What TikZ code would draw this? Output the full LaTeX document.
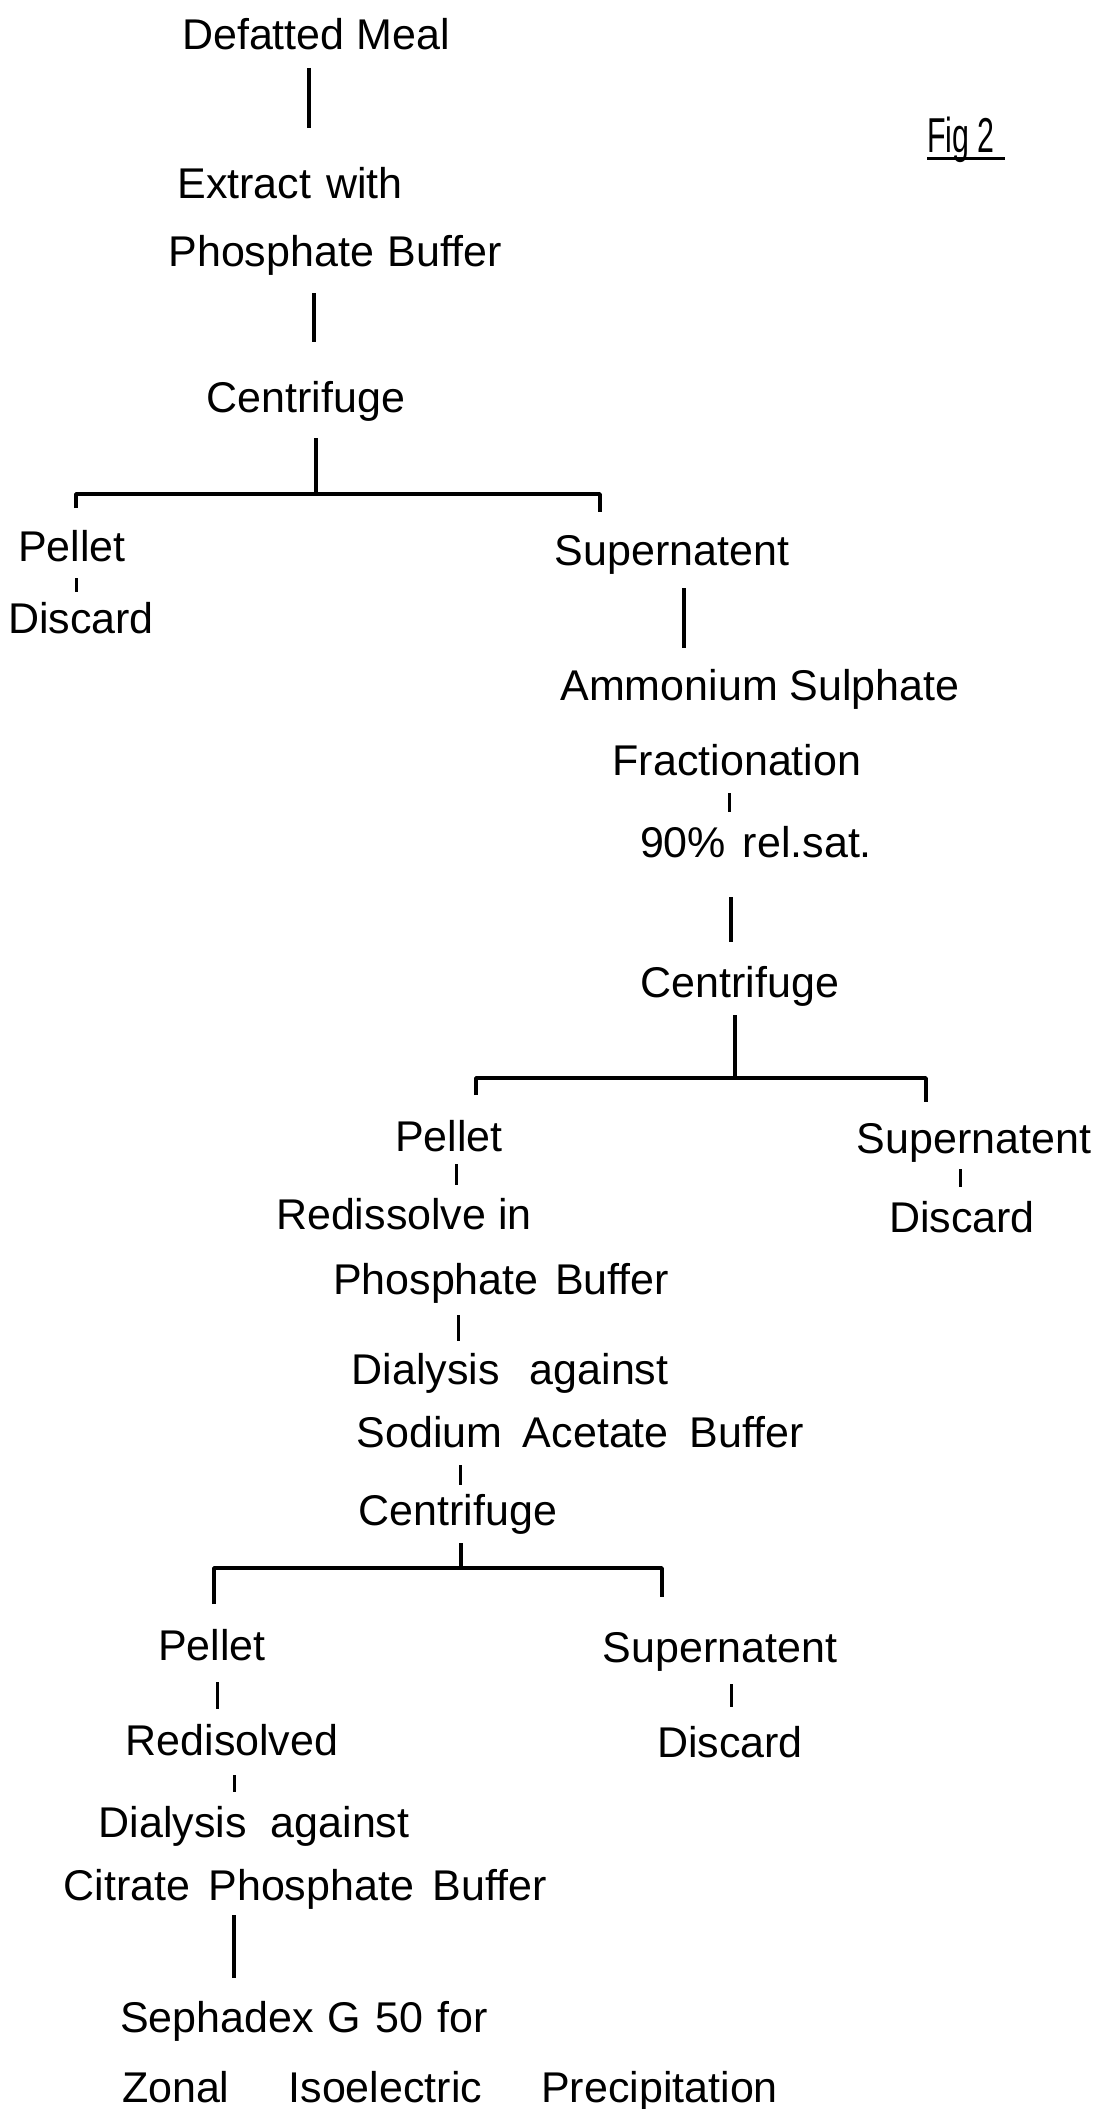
\documentclass[tikz,border=0pt]{standalone}
\usepackage{fontspec}
\setmainfont{Liberation Sans}
\newcommand{\fitw}[2]{\makebox[#1pt][s]{#2}}
\begin{document}
\begin{tikzpicture}[x=1pt,y=-1pt,
  txt/.style={inner sep=0pt, anchor=base, font=\fontsize{43}{50}\selectfont},
  figtxt/.style={inner sep=0pt, anchor=base west, font=\fontsize{49}{56}\selectfont},
  conn/.style={line width=3.8pt},
  tick/.style={line width=3pt},
  bar/.style={line width=3.5pt, line join=round}]
\useasboundingbox[fill=white] (0,0) rectangle (1105,2109);

% ---------- text nodes ----------
\node[txt] (meal) at (316,50) {Defatted Meal};
\node[txt] (ext1) at (290,198) {\fitw{225}{Extract with}};
\node[txt] (ext2) at (335,266) {\fitw{333}{Phosphate Buffer}};
\node[txt] (cen1) at (306,412) {Centrifuge};
\node[txt] (pel1) at (72,561) {Pellet};
\node[txt] (dis1) at (81,633) {Discard};
\node[txt] (sup1) at (672,565) {Supernatent};
\node[txt] (amm1) at (760,700) {Ammonium Sulphate};
\node[txt] (amm2) at (737,775) {Fractionation};
\node[txt] (amm3) at (756,857) {\fitw{232}{90\% rel.sat.}};
\node[txt] (cen2) at (740,997) {Centrifuge};
\node[txt] (pel2) at (449,1151) {Pellet};
\node[txt] (sup2) at (974,1153) {Supernatent};
\node[txt] (dis2) at (962,1232) {Discard};
\node[txt] (red1) at (404,1229) {Redissolve in};
\node[txt] (red2) at (501,1294) {\fitw{336}{Phosphate Buffer}};
\node[txt] (dia1) at (510,1384) {\fitw{317}{Dialysis against}};
\node[txt] (dia2) at (580,1447) {\fitw{447}{Sodium Acetate Buffer}};
\node[txt] (cen3) at (458,1525) {Centrifuge};
\node[txt] (pel3) at (212,1660) {Pellet};
\node[txt] (sup3) at (720,1662) {Supernatent};
\node[txt] (rds) at (232,1755) {Redisolved};
\node[txt] (dis3) at (730,1757) {Discard};
\node[txt] (dia3) at (254,1837) {\fitw{311}{Dialysis against}};
\node[txt] (cit) at (305,1900) {\fitw{483}{Citrate Phosphate Buffer}};
\node[txt] (sep) at (304,2032) {\fitw{368}{Sephadex G 50 for}};
\node[txt] (zon) at (450,2102) {\fitw{656}{Zonal Isoelectric Precipitation}};
\node[figtxt] (fig) at (927,152) {\scalebox{0.62}[1]{Fig 2}};
\draw[line width=3pt] ([yshift=-6pt]fig.base west) -- ([xshift=10pt,yshift=-6pt]fig.base east);

% ---------- line end points ----------
\coordinate (a1) at (309,68);   \coordinate (a2) at (309,128);
\coordinate (b1) at (314,293);  \coordinate (b2) at (314,342);
\coordinate (c1) at (316,438);  \coordinate (c2) at (316,494);
\coordinate (k1l) at (76,508);  \coordinate (k1tl) at (76,494);
\coordinate (k1tr) at (600,494);\coordinate (k1r) at (600,512);
\coordinate (t1a) at (76,578);  \coordinate (t1b) at (76,592);
\coordinate (d1) at (684,588);  \coordinate (d2) at (684,648);
\coordinate (t2a) at (729,793); \coordinate (t2b) at (729,812);
\coordinate (e1) at (731,897);  \coordinate (e2) at (731,942);
\coordinate (f1) at (735,1015); \coordinate (f2) at (735,1078);
\coordinate (k2l) at (476,1095);\coordinate (k2tl) at (476,1078);
\coordinate (k2tr) at (926,1078);\coordinate (k2r) at (926,1102);
\coordinate (t3a) at (456,1164);\coordinate (t3b) at (456,1185);
\coordinate (t4a) at (960,1169);\coordinate (t4b) at (960,1187);
\coordinate (t5a) at (458,1315);\coordinate (t5b) at (458,1341);
\coordinate (t6a) at (460,1465);\coordinate (t6b) at (460,1485);
\coordinate (g1) at (461,1543); \coordinate (g2) at (461,1568);
\coordinate (k3l) at (214,1604);\coordinate (k3tl) at (214,1568);
\coordinate (k3tr) at (662,1568);\coordinate (k3r) at (662,1597);
\coordinate (t7a) at (217,1682);\coordinate (t7b) at (217,1709);
\coordinate (t8a) at (731,1684);\coordinate (t8b) at (731,1707);
\coordinate (t9a) at (234,1775);\coordinate (t9b) at (234,1792);
\coordinate (h1) at (234,1915); \coordinate (h2) at (234,1978);

% ---------- connectors ----------
\draw[conn] (a1) -- (a2);
\draw[conn] (b1) -- (b2);
\draw[conn] (c1) -- (c2);
\draw[bar] (k1l) -- (k1tl) -- (k1tr) -- (k1r);
\draw[tick] (t1a) -- (t1b);
\draw[conn] (d1) -- (d2);
\draw[tick] (t2a) -- (t2b);
\draw[conn] (e1) -- (e2);
\draw[conn] (f1) -- (f2);
\draw[bar] (k2l) -- (k2tl) -- (k2tr) -- (k2r);
\draw[tick] (t3a) -- (t3b);
\draw[tick] (t4a) -- (t4b);
\draw[tick] (t5a) -- (t5b);
\draw[tick] (t6a) -- (t6b);
\draw[conn] (g1) -- (g2);
\draw[bar] (k3l) -- (k3tl) -- (k3tr) -- (k3r);
\draw[tick] (t7a) -- (t7b);
\draw[tick] (t8a) -- (t8b);
\draw[tick] (t9a) -- (t9b);
\draw[conn] (h1) -- (h2);
\end{tikzpicture}
\end{document}
